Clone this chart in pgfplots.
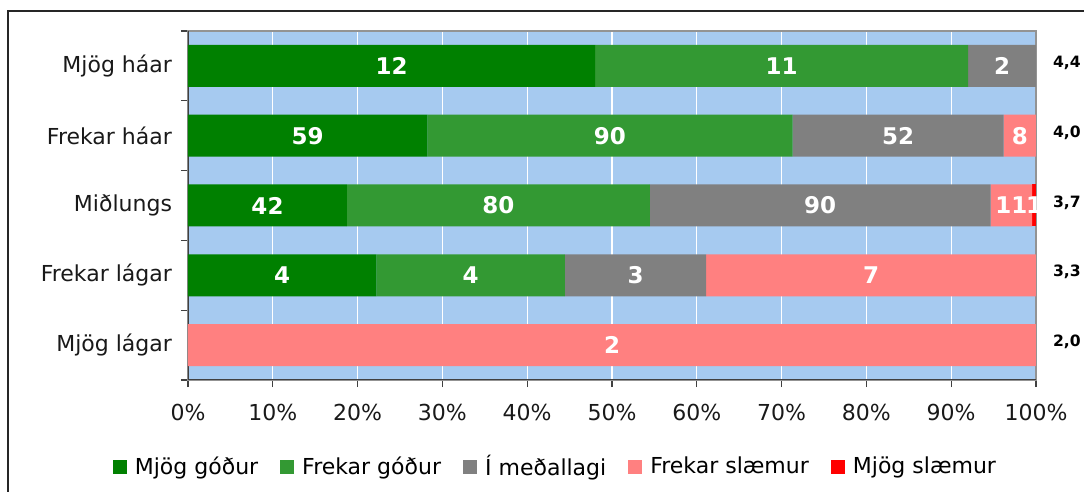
\documentclass[border=0pt]{standalone}
\usepackage{fontspec}
\setmainfont{DejaVu Sans}
\usepackage{pgfplots}
\usepackage{pgfplotstable}
\pgfplotsset{compat=1.18}
\definecolor{cA}{HTML}{008000}
\definecolor{cB}{HTML}{339933}
\definecolor{cC}{HTML}{808080}
\definecolor{cD}{HTML}{FF8080}
\definecolor{cE}{HTML}{FF0000}
\definecolor{bg}{HTML}{A6CAF0}

% counts per category (i = row from top), t = total, m = mean shown at right
\pgfplotstableread{
i a b c d e t m
0 12 11 2 0 0 25 4,4
1 59 90 52 8 0 209 4,0
2 42 80 90 11 1 224 3,7
3 4 4 3 7 0 18 3,3
4 0 0 0 2 0 2 2,0
}\data

% segment labels: y, count before segment, count, total
\pgfplotstableread{
y s v t
0 0 12 25
0 12 11 25
0 23 2 25
1 0 59 209
1 59 90 209
1 149 52 209
1 201 8 209
2 0 42 224
2 42 80 224
2 122 90 224
2 212 11 224
2 223 1 224
3 0 4 18
3 4 4 18
3 8 3 18
3 11 7 18
4 0 2 2
}\labels

\newcommand{\fs}{\fontsize{11}{13}\selectfont}

\begin{document}
\begin{tikzpicture}
\useasboundingbox (0pt,0pt) rectangle (542pt,246pt);
\draw[line width=0.9pt, black!85] (4pt,-3pt) -- (4pt,240.5pt) -- (545pt,240.5pt);
\begin{axis}[
  at={(94pt,56pt)}, anchor=south west, scale only axis,
  width=424pt, height=174.5pt,
  xbar stacked, bar width=21pt,
  xmin=0, xmax=100, ymin=-0.5, ymax=4.5, y dir=reverse,
  axis background/.style={fill=bg},
  xtick={0,10,...,100},
  xticklabel={\pgfmathprintnumber{\tick}\%},
  ytick={0,1,2,3,4},
  yticklabels={Mjög háar, Frekar háar, Miðlungs, Frekar lágar, Mjög lágar},
  minor ytick={-0.5,0.5,1.5,2.5,3.5,4.5},
  every major y tick/.append style={draw=none},
  major tick length=3.5pt, minor tick length=3.5pt,
  tick align=outside, xtick pos=bottom, ytick pos=left,
  tick style={black!75, line width=0.6pt},
  xmajorgrids, major grid style={white, line width=0.6pt},
  axis line style={draw=gray!85, line width=0.8pt},
  tick label style={font=\fs, text=black!90},
  /pgf/number format/assume math mode=true,
  yticklabel style={xshift=-1pt},
  xticklabel style={yshift=-5pt},
  legend style={at={(0.4345,-0.249)}, anchor=center, draw=none, fill=none,
    font=\fs, legend columns=-1,
    /tikz/every odd column/.append style={column sep=2pt},
    /tikz/every even column/.append style={column sep=9pt}},
  legend image code/.code={\fill[#1] (0pt,-3.5pt) rectangle (7pt,3.5pt);},
]
\addplot[fill=cA, draw=none] table[y=i, x expr=\thisrow{a}/\thisrow{t}*100] {\data};
\addlegendentry{Mjög góður}
\addplot[fill=cB, draw=none] table[y=i, x expr=\thisrow{b}/\thisrow{t}*100] {\data};
\addlegendentry{Frekar góður}
\addplot[fill=cC, draw=none] table[y=i, x expr=\thisrow{c}/\thisrow{t}*100] {\data};
\addlegendentry{Í meðallagi}
\addplot[fill=cD, draw=none] table[y=i, x expr=\thisrow{d}/\thisrow{t}*100] {\data};
\addlegendentry{Frekar slæmur}
\addplot[fill=cE, draw=none] table[y=i, x expr=\thisrow{e}/\thisrow{t}*100] {\data};
\addlegendentry{Mjög slæmur}
\draw[black!75, line width=0.8pt] (axis description cs:0,1) -- (axis description cs:0,0) -- (axis description cs:1,0);
\end{axis}
\begin{axis}[
  at={(94pt,56pt)}, anchor=south west, scale only axis,
  width=424pt, height=174.5pt,
  xmin=0, xmax=100, ymin=-0.5, ymax=4.5, y dir=reverse,
  hide axis, clip=false,
]
\addplot[draw=none, mark=none, nodes near coords, point meta=explicit symbolic,
  every node near coord/.style={anchor=center, text=white, font=\fontsize{11.5}{13}\selectfont\bfseries}]
  table[y=y, x expr=(\thisrow{s}+\thisrow{v}/2)/\thisrow{t}*100, meta=v] {\labels};
\addplot[draw=none, mark=none, nodes near coords, point meta=explicit symbolic,
  every node near coord/.style={anchor=west, xshift=5pt, yshift=1.5pt, text=black, font=\fontsize{7.8}{9}\selectfont\bfseries}]
  table[y=i, x expr=100, meta=m] {\data};
\end{axis}
\end{tikzpicture}
\end{document}
